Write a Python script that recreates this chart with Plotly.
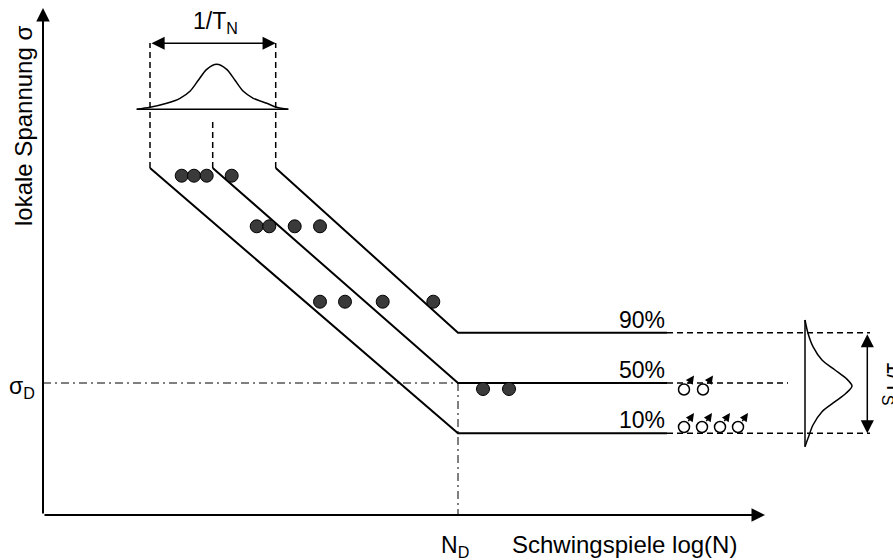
import plotly.graph_objects as go

# ---------------- data (arbitrary units: u = log(N), v = local stress) ----------------
# axis extents (origin at the intersection of the axes)
x_axis_end = 722
y_axis_end = 507

# S-N quantile curves: 10 %, 50 %, 90 %
quant_labels = ["10%", "50%", "90%"]
slope_start_x = [107, 169.7, 232.7]
slope_start_y = [347, 347, 347]
knee_x = [415, 415, 415]            # N_D
knee_y = [81.7, 132, 182.3]         # fatigue strength levels (50 % = sigma_D)
solid_end_x = [624, 624, 624]
dash_end_x = [827, 745, 827]
top_dash_end_y = [472, 397, 472]    # dashed projection up to the 1/T_N scatter band

# test results: failures (filled)
fail_x = [138.7, 151, 163.7, 188.7,
          213.7, 226.3, 251.7, 277,
          277, 302, 339.7, 390.3,
          440, 466]
fail_y = [339.3, 339.3, 339.3, 339.3,
          288.7, 288.7, 288.7, 288.7,
          213.3, 213.3, 213.3, 213.3,
          126, 126]

# run-outs (open circles with arrow)
run_x = [641, 660, 641, 659, 677, 695]
run_y = [125.5, 125.5, 88, 88, 88, 88]

# distribution curve in N-direction (horizontal baseline)
gauss_n_base = 405.7
gauss_n_x = [93.7, 107, 123.7, 137, 147, 155.3, 163.7, 173.7, 183.7, 192, 200.3, 210.3, 223.7, 233.7, 245.3]
gauss_n_h = [0, 2, 6, 11, 18, 29, 40, 45, 40, 29, 18, 11, 6, 2, 0]

# distribution curve in stress direction (vertical baseline)
gauss_s_base = 762
gauss_s_y = [195, 181.7, 168.3, 155, 145, 136.7, 129, 121.7, 113.3, 103.3, 90, 76.7, 68.3]
gauss_s_h = [0, 3, 8, 17, 30, 41, 47, 41, 30, 17, 8, 3, 0]

# scatter-range arrows
tn_arrow_y = 471.7
ts_arrow_x = 824.3

# ---------------- styles ----------------
FONT = "Arial, Liberation Sans, sans-serif"
FS = 23
BLACK = "#000000"
DASH = "6px,4px"
DASHDOT = "8px,4px,2px,4px"

fig = go.Figure()

def line(xs, ys, width=2, dash=None):
    fig.add_trace(go.Scatter(x=xs, y=ys, mode="lines",
                             line=dict(color=BLACK, width=width, dash=dash),
                             hoverinfo="skip", showlegend=False))

# dash-dot reference lines sigma_D and N_D
line([0, knee_x[1]], [knee_y[1], knee_y[1]], width=1, dash=DASHDOT)
line([knee_x[1], knee_x[1]], [knee_y[1], 0], width=1, dash=DASHDOT)

# quantile lines
for i in range(3):
    line([slope_start_x[i], knee_x[i], solid_end_x[i]],
         [slope_start_y[i], knee_y[i], knee_y[i]], width=2)
    line([solid_end_x[i], dash_end_x[i]], [knee_y[i], knee_y[i]], width=1.5, dash=DASH)
    line([slope_start_x[i], slope_start_x[i]], [slope_start_y[i], top_dash_end_y[i]],
         width=1.5, dash=DASH)

# distribution curves
line([gauss_n_x[0], gauss_n_x[-1]], [gauss_n_base, gauss_n_base], width=1.5)
fig.add_trace(go.Scatter(x=gauss_n_x, y=[gauss_n_base + h for h in gauss_n_h], mode="lines",
                         line=dict(color=BLACK, width=1.5, shape="spline", smoothing=0.8),
                         hoverinfo="skip", showlegend=False))
line([gauss_s_base, gauss_s_base], [gauss_s_y[0], gauss_s_y[-1]], width=1.5)
fig.add_trace(go.Scatter(x=[gauss_s_base + h for h in gauss_s_h], y=gauss_s_y, mode="lines",
                         line=dict(color=BLACK, width=1.5, shape="spline", smoothing=0.8),
                         hoverinfo="skip", showlegend=False))

# failures
fig.add_trace(go.Scatter(x=fail_x, y=fail_y, mode="markers",
                         marker=dict(size=13, color="#3a3a3a", line=dict(color=BLACK, width=1)),
                         hoverinfo="skip", showlegend=False))
# run-outs
fig.add_trace(go.Scatter(x=run_x, y=run_y, mode="markers",
                         marker=dict(size=11, color="white", line=dict(color=BLACK, width=1.5)),
                         hoverinfo="skip", showlegend=False))

ann = []
def arrow(x0, y0, x1, y1, width=2, size=1.3, both=False, head=2):
    ann.append(dict(x=x1, y=y1, ax=x0, ay=y0, xref="x", yref="y", axref="x", ayref="y",
                    text="", showarrow=True, arrowhead=head, arrowsize=size, arrowwidth=width,
                    arrowcolor=BLACK, arrowside="end+start" if both else "end",
                    startarrowhead=head, startarrowsize=size, standoff=0, startstandoff=0))

# axes
arrow(0, 0, 0, y_axis_end, width=2, size=1.35)
arrow(0, 0, x_axis_end, 0, width=2, size=1.35)
# scatter range arrows
arrow(slope_start_x[0], tn_arrow_y, slope_start_x[2], tn_arrow_y, width=1.5, size=1.75, both=True)
arrow(ts_arrow_x, knee_y[2], ts_arrow_x, knee_y[0], width=1.5, size=1.75, both=True)
# run-out arrows (offset from circle centre, in px == units)
for rx, ry in zip(run_x, run_y):
    arrow(rx + 3.3, ry + 4.4, rx + 10, ry + 14, width=1.5, size=1.1)

def text(t, x, y, angle=0, xanchor="center", yanchor="middle", size=FS):
    ann.append(dict(x=x, y=y, xref="x", yref="y", text=t, showarrow=False, textangle=angle,
                    xanchor=xanchor, yanchor=yanchor, font=dict(family=FONT, size=size, color=BLACK)))

for i in range(3):
    text(quant_labels[i], 598.5, knee_y[i] + 13)
text("1/T<sub>N</sub>", 172, 493)
text("1/T<sub>S</sub>", 834, 132, angle=90, xanchor="left")
text("σ<sub>D</sub>", -21.5, 128)
text("N<sub>D</sub>", 411.5, -31)
text("Schwingspiele log(N)", 581.4, -29.5, size=24)
text("lokale Spannung σ", -20, 389, angle=-90, size=24)

fig.update_layout(
    width=893, height=560, margin=dict(l=0, r=0, t=0, b=0),
    paper_bgcolor="white", plot_bgcolor="white",
    xaxis=dict(range=[-43, 850], visible=False, fixedrange=True),
    yaxis=dict(range=[-45, 515], visible=False, fixedrange=True),
    annotations=ann, showlegend=False,
)
fig.write_html("out.html", config={"displayModeBar": False},
               post_script="document.body.style.margin='0px';document.body.style.overflow='hidden';")
